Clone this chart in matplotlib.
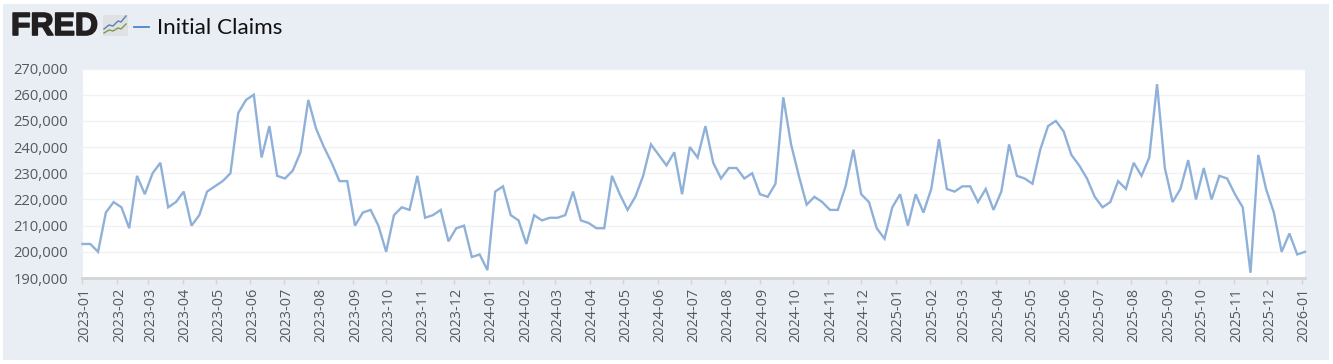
import matplotlib
matplotlib.use("Agg")
import matplotlib.pyplot as plt
import matplotlib.dates as mdates
import matplotlib.patheffects as pe
from matplotlib.patches import Rectangle
from matplotlib.ticker import FuncFormatter
from matplotlib.transforms import ScaledTranslation
import pandas as pd

W, H = 1333, 364

series_name = "Initial Claims"
claims_thousands = [
    203, 203, 200, 215, 219, 217, 209, 229, 222, 230, 234, 217, 219, 223, 210, 214,
    223, 225, 227, 230, 253, 258, 260, 236, 248, 229, 228, 231, 238, 258, 247, 240,
    234, 227, 227, 210, 215, 216, 210, 200, 214, 217, 216, 229, 213, 214, 216, 204,
    209, 210, 198, 199, 193, 223, 225, 214, 212, 203,
    214, 212, 213, 213, 214, 223, 212, 211, 209, 209,
    229, 222, 216, 221, 229, 241, 237, 233, 238, 222,
    240, 236, 248, 234, 228, 232, 232, 228, 230, 222,
    221, 226, 259, 241, 229, 218, 221, 219, 216, 216,
    225, 239, 222, 219, 209, 205,
    217, 222, 210, 222, 215, 224, 243, 224, 223, 225,
    225, 219, 224, 216, 223, 241, 229, 228, 226, 239,
    248, 250, 246, 237, 233, 228, 221, 217, 219, 227,
    224, 234, 229, 236, 264, 232, 219, 224, 235, 220,
    232, 220, 229, 228, 222, 217, 192, 237, 224, 215,
    200, 207, 199, 200,
]
first_week = "2023-01-01"
y_ticks = [190000, 200000, 210000, 220000, 230000, 240000, 250000, 260000, 270000]

weeks = pd.date_range(first_week, periods=len(claims_thousands), freq="7D")
values = [v * 1000 for v in claims_thousands]

plt.rcParams["font.family"] = ["Open Sans", "DejaVu Sans"]
fig = plt.figure(figsize=(W / 100, H / 100), dpi=100, facecolor="white")

PANEL = "#e9edf4"
fig.add_artist(Rectangle((3 / W, 1 - 360 / H), 1326 / W, 356 / H, transform=fig.transFigure,
                         facecolor=PANEL, edgecolor="none", zorder=-5))

L, R, T, B = 82.5, 1305, 68.5, 278
ax = fig.add_axes([L / W, 1 - B / H, (R - L) / W, (B - T) / H], facecolor="white")
ax.plot(weeks, values, color="#8fb1d9", lw=1.7, solid_joinstyle="miter", clip_on=False, zorder=3)
ax.set_xlim(weeks[0], weeks[-1])
ax.set_ylim(190000, 270000)
ax.set_yticks(y_ticks)
ax.yaxis.set_major_formatter(FuncFormatter(lambda v, _: f"{int(v):,}"))
ax.xaxis.set_major_locator(mdates.MonthLocator())
ax.xaxis.set_major_formatter(mdates.DateFormatter("%Y-%m"))
ax.grid(axis="y", color="#f1f2f5", lw=1)
ax.set_axisbelow(True)
for s in ("top", "left", "right"):
    ax.spines[s].set_visible(False)
ax.spines["bottom"].set_color("#d4d4d6")
ax.spines["bottom"].set_linewidth(2)
ax.tick_params(axis="y", length=0, pad=10.5, labelsize=10.6, labelcolor="#55595f")
ax.tick_params(axis="x", length=4, width=1, color="#d4d4d6", pad=3, labelsize=10.4,
               labelcolor="#55595f", labelrotation=90)
shift = ScaledTranslation(2.5 / 100, 0, fig.dpi_scale_trans)
for lab in ax.get_xticklabels():
    lab.set_transform(lab.get_transform() + shift)

# header: logo and legend
fig.text(11 / W, 1 - 27 / H, "FRED", family="Liberation Sans", fontweight="bold", fontsize=23,
         color="#231f20", va="center", ha="left",
         path_effects=[pe.withStroke(linewidth=1.2, foreground="#231f20")])
fig.add_artist(Rectangle((103 / W, 1 - 36 / H), 25 / W, 21 / H, transform=fig.transFigure,
                         facecolor="#dfe1e4", edgecolor="none"))
icon_x = [104, 109, 113, 118, 121, 126]
fig.add_artist(plt.Line2D([x / W for x in icon_x], [1 - y / H for y in [29, 25, 26, 21, 22, 16]],
                          color="#5f7fa8", lw=1))
fig.add_artist(plt.Line2D([x / W for x in icon_x], [1 - y / H for y in [33, 30, 31, 28, 29, 24]],
                          color="#7d9a4d", lw=1))
fig.add_artist(plt.Line2D([134 / W, 149 / W], [1 - 26.5 / H] * 2, color="#4a86c8", lw=1.3))
fig.text(157 / W, 1 - 27.5 / H, series_name, family="Lato", fontsize=16.2, color="#111111",
         va="center", ha="left")

fig.savefig("out.png", dpi=100, facecolor="white")
